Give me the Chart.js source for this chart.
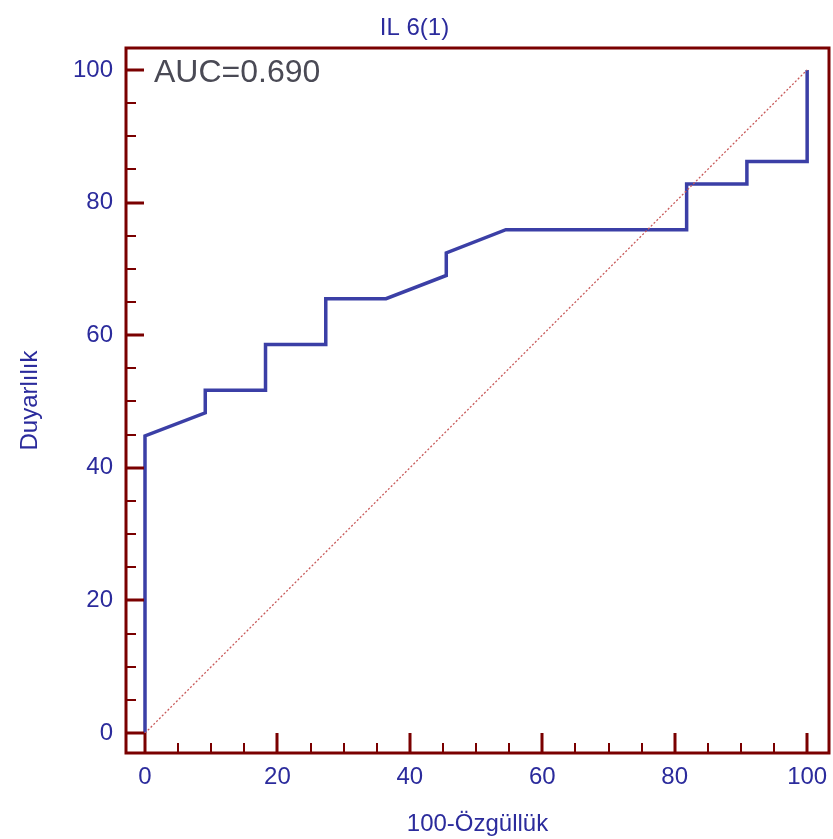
<!DOCTYPE html>
<html>
<head>
<meta charset="utf-8">
<script src="https://cdn.jsdelivr.net/npm/chart.js@4/dist/chart.umd.min.js"></script>
<style>
  html, body { margin: 0; padding: 0; background: #fff; }
  #wrap { width: 833px; height: 839px; }
</style>
</head>
<body>
<div id="wrap"><canvas id="roc" width="833" height="839"></canvas></div>
<script>
// ROC curve (100-specificity vs sensitivity)
const fpr = [0, 0, 9.1, 9.1, 18.2, 18.2, 27.3, 27.3, 36.4, 45.5, 45.5, 54.5, 81.8, 81.8, 90.9, 90.9, 100, 100];
const tpr = [0, 44.8, 48.3, 51.7, 51.7, 58.6, 58.6, 65.5, 65.5, 69.0, 72.4, 75.9, 75.9, 82.8, 82.8, 86.2, 86.2, 100];
const refX = [0, 100];
const refY = [0, 100];
const majorTicks = [0, 20, 40, 60, 80, 100];
const minorTicks = [5, 10, 15, 25, 30, 35, 45, 50, 55, 65, 70, 75, 85, 90, 95];
const aucText = 'AUC=0.690';

const FRAME = '#7a0000';
const LABEL = '#2b2b9c';
const FONT = 'Arial, "Liberation Sans", sans-serif';

const toPoints = (xs, ys) => xs.map((x, i) => ({ x, y: ys[i] }));

// frame, inward ticks and the AUC note
const framePlugin = {
  id: 'frame',
  afterDraw(chart) {
    const { ctx, chartArea: a, scales } = chart;
    const x = scales.x, y = scales.y;
    ctx.save();
    ctx.strokeStyle = FRAME;
    ctx.lineWidth = 3;
    ctx.strokeRect(a.left, a.top, a.right - a.left, a.bottom - a.top);

    majorTicks.forEach(v => {
      const px = Math.round(x.getPixelForValue(v));
      const py = Math.round(y.getPixelForValue(v));
      ctx.beginPath();
      ctx.moveTo(px, a.bottom); ctx.lineTo(px, a.bottom - 20);
      ctx.moveTo(a.left, py); ctx.lineTo(a.left + 18, py);
      ctx.stroke();
    });
    ctx.lineWidth = 2;
    minorTicks.forEach(v => {
      const px = Math.round(x.getPixelForValue(v));
      const py = Math.round(y.getPixelForValue(v));
      ctx.beginPath();
      ctx.moveTo(px, a.bottom); ctx.lineTo(px, a.bottom - 10);
      ctx.moveTo(a.left, py); ctx.lineTo(a.left + 10, py);
      ctx.stroke();
    });

    ctx.fillStyle = '#4a4a55';
    ctx.font = '32px ' + FONT;
    ctx.textBaseline = 'alphabetic';
    ctx.textAlign = 'left';
    ctx.fillText(aucText, a.left + 28, a.top + 34);
    ctx.restore();
  }
};

new Chart(document.getElementById('roc'), {
  type: 'scatter',
  data: {
    datasets: [
      {
        label: 'reference',
        data: toPoints(refX, refY),
        showLine: true,
        borderColor: '#c85a5a',
        borderWidth: 1.3,
        borderDash: [2, 2],
        pointRadius: 0
      },
      {
        label: 'IL 6(1)',
        data: toPoints(fpr, tpr),
        showLine: true,
        borderColor: '#3b3fa6',
        borderWidth: 3.5,
        pointRadius: 0,
        borderJoinStyle: 'miter'
      }
    ]
  },
  options: {
    responsive: false,
    animation: false,
    layout: { padding: { top: 0, right: 4, bottom: 0, left: 0 } },
    plugins: {
      legend: { display: false },
      tooltip: { enabled: false },
      title: {
        display: true,
        text: 'IL 6(1)',
        color: LABEL,
        font: { family: FONT, size: 24, weight: 'normal' },
        padding: { top: 14, bottom: 5.2 }
      }
    },
    scales: {
      x: {
        type: 'linear',
        min: -2.87,
        max: 103.3,
        afterFit(s) { s.height = 86; s.paddingLeft = 0; s.paddingRight = 0; },
        afterBuildTicks(s) { s.ticks = majorTicks.map(v => ({ value: v })); },
        grid: { display: false, drawTicks: false },
        border: { display: false },
        ticks: {
          color: LABEL,
          padding: 10,
          maxRotation: 0,
          font: { family: FONT, size: 24 }
        },
        title: {
          display: true,
          text: '100-Özgüllük',
          color: LABEL,
          font: { family: FONT, size: 24 },
          padding: { top: 6.6, bottom: 0 }
        }
      },
      y: {
        type: 'linear',
        min: -3.0,
        max: 103.3,
        afterFit(s) { s.width = 126; s.paddingTop = 0; s.paddingBottom = 0; },
        afterBuildTicks(s) { s.ticks = majorTicks.map(v => ({ value: v })); },
        grid: { display: false, drawTicks: false },
        border: { display: false },
        ticks: {
          color: LABEL,
          padding: 13,
          font: { family: FONT, size: 24 }
        },
        title: {
          display: true,
          text: 'Duyarlılık',
          color: LABEL,
          font: { family: FONT, size: 24 },
          padding: { top: 15.6, bottom: 0 }
        }
      }
    }
  },
  plugins: [framePlugin]
});
</script>
</body>
</html>
